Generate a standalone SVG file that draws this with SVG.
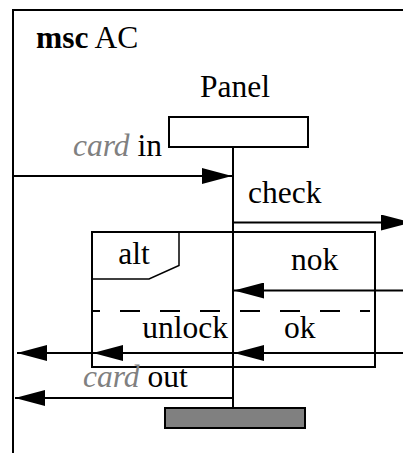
<svg xmlns="http://www.w3.org/2000/svg" width="403" height="453" viewBox="0 0 403 453">
<style>
.t{font-family:'Liberation Serif','Times New Roman',Times,'DejaVu Serif',serif;font-size:31.5px;fill:#000}
.g{fill:#808080;font-style:italic}
.b{font-weight:bold}
.ln{stroke:#000;stroke-width:2;fill:none}
.msg{stroke:#000;stroke-width:2;fill:none;marker-end:url(#ah)}
</style>
<defs>
<marker id="ah" markerUnits="userSpaceOnUse" markerWidth="30" markerHeight="16" viewBox="0 0 30 16" refX="30" refY="8" orient="auto">
<path d="M0,0 L30,8 L0,16 Z" fill="#000"/>
</marker>
</defs>
<rect width="403" height="453" fill="#fff"/>
<g id="frame">
<path class="ln" d="M13,453 V10 H403"/>
<text class="t" x="36" y="48"><tspan class="b">msc</tspan> AC</text>
</g>
<g id="panel">
<text class="t" x="235" y="97" text-anchor="middle">Panel</text>
<rect class="ln" x="169" y="117" width="139" height="30" fill="#fff"/>
<line class="ln" x1="233" y1="147" x2="233" y2="408"/>
<rect x="165" y="408" width="140" height="20" fill="#808080" stroke="#000" stroke-width="2"/>
</g>
<g id="alt">
<rect class="ln" x="92" y="232" width="283" height="135"/>
<path d="M92,279 H149 L179,265.5 V232" fill="none" stroke="#000" stroke-width="1.5"/>
<text class="t" x="134" y="264" text-anchor="middle">alt</text>
<line x1="92" y1="311" x2="370" y2="311" stroke="#000" stroke-width="2" stroke-dasharray="20 20" stroke-dashoffset="12"/>
</g>
<g id="connectors">
<line class="msg" x1="13" y1="176" x2="232" y2="176"/>
<line class="msg" x1="233" y1="222.5" x2="411" y2="222.5"/>
<line class="msg" x1="403" y1="290.5" x2="234" y2="290.5"/>
<line class="msg" x1="403" y1="353" x2="234" y2="353"/>
<line class="msg" x1="233" y1="353" x2="93" y2="353"/>
<line class="msg" x1="93" y1="353" x2="17" y2="353"/>
<line class="msg" x1="233" y1="398" x2="15" y2="398"/>
</g>
<g id="labels">
<text class="t" x="162" y="156" text-anchor="end"><tspan class="g">card</tspan> in</text>
<text class="t" x="248" y="203">check</text>
<text class="t" x="291" y="270">nok</text>
<text class="t" x="284" y="338">ok</text>
<text class="t" x="228" y="338" text-anchor="end">unlock</text>
<text class="t" x="83" y="387"><tspan class="g">card</tspan> out</text>
</g>
</svg>
